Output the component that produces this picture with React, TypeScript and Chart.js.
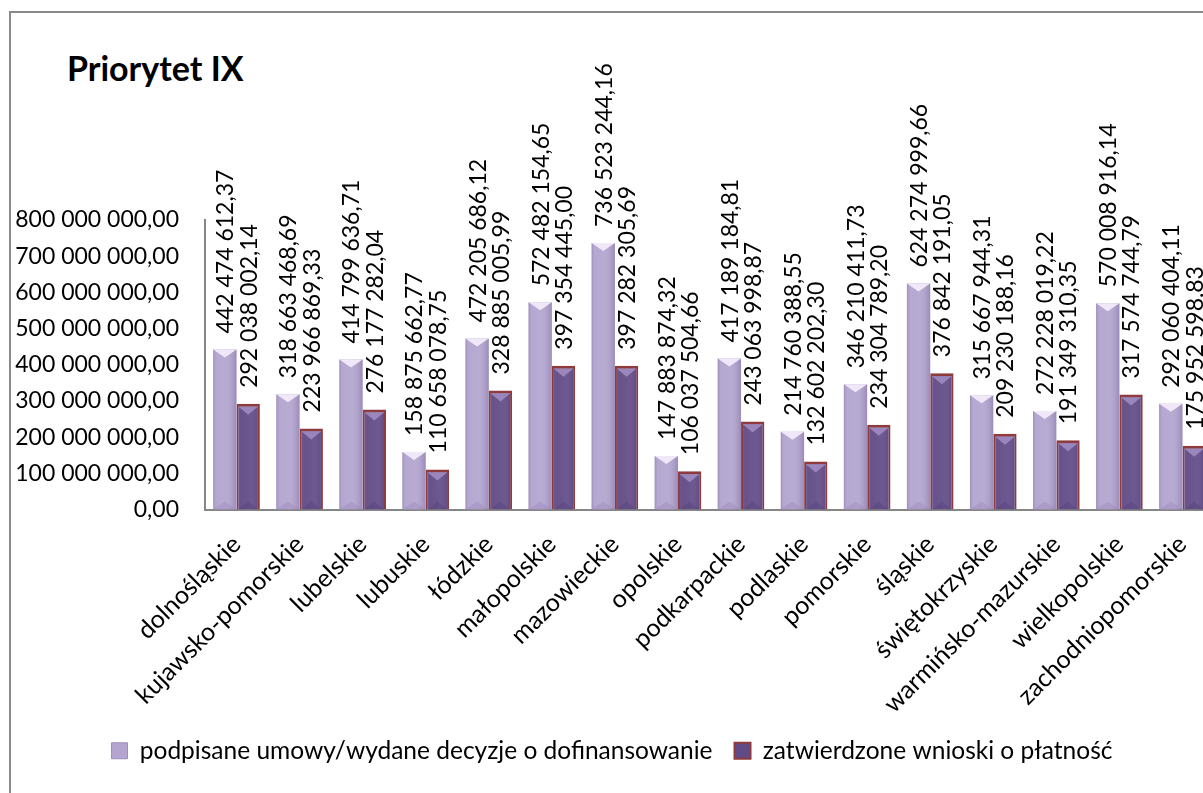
import React, { useEffect, useRef } from "react";
import { Chart, registerables } from "chart.js";

Chart.register(...registerables);

const categories: string[] = [
  "dolnośląskie",
  "kujawsko-pomorskie",
  "lubelskie",
  "lubuskie",
  "łódzkie",
  "małopolskie",
  "mazowieckie",
  "opolskie",
  "podkarpackie",
  "podlaskie",
  "pomorskie",
  "śląskie",
  "świętokrzyskie",
  "warmińsko-mazurskie",
  "wielkopolskie",
  "zachodniopomorskie",
];

const signedValues: number[] = [
  442474612.37, 318663468.69, 414799636.71, 158875662.77, 472205686.12,
  572482154.65, 736523244.16, 147883874.32, 417189184.81, 214760388.55,
  346210411.73, 624274999.66, 315667944.31, 272228019.22, 570008916.14,
  292060404.11,
];

const approvedValues: number[] = [
  292038002.14, 223966869.33, 276177282.04, 110658078.75, 328885005.99,
  397354445.0, 397282305.69, 106037504.66, 243063998.87, 132602202.3,
  234304789.2, 376842191.05, 209230188.16, 191349310.35, 317574744.79,
  175952598.83,
];

const seriesNames: string[] = [
  "podpisane umowy/wydane decyzje o dofinansowanie",
  "zatwierdzone wnioski o płatność",
];

const yMin = 0;
const yMax = 800000000;
const yStep = 100000000;

const titleText = "Priorytet IX";

const FONT = "Lato";
const FS = 23;
const FS_TEXT = 24.5;
const FS_CAT = 25;

function fmt(v: number): string {
  const [i, d] = v.toFixed(2).split(".");
  const g = i.replace(/\B(?=(\d{3})+(?!\d))/g, " ");
  return g + "," + d;
}

const decorPlugin = {
  id: "decor",
  afterDatasetsDraw(chart: any) {
    const ctx = chart.ctx;
    ctx.save();
    chart.data.datasets.forEach((ds: any, di: number) => {
      const meta = chart.getDatasetMeta(di);
      meta.data.forEach((el: any) => {
        const { x, y, base, width } = el.getProps(["x", "y", "base", "width"], true);
        const l = x - width / 2;
        const r = x + width / 2;
        const inset = di === 1 ? 2 : 0;
        const topIn = di === 1 ? 3 : 0;
        const g = ctx.createLinearGradient(l, 0, r, 0);
        g.addColorStop(0, "rgba(60,40,100,0.20)");
        g.addColorStop(0.18, "rgba(255,255,255,0.04)");
        g.addColorStop(0.55, "rgba(255,255,255,0.07)");
        g.addColorStop(1, "rgba(60,40,100,0.22)");
        ctx.fillStyle = g;
        ctx.fillRect(l + inset, y + topIn, width - inset * 2, base - y - topIn);
        // top bevel
        const bt = y + topIn;
        ctx.beginPath();
        ctx.moveTo(l + inset, bt);
        ctx.lineTo(r - inset, bt);
        ctx.lineTo(x, bt + 8);
        ctx.closePath();
        ctx.fillStyle = di === 0 ? "#f0e8f9" : "#9a86bd";
        ctx.fill();
        // bottom bevel
        ctx.beginPath();
        ctx.moveTo(l + inset, base);
        ctx.lineTo(r - inset, base);
        ctx.lineTo(x, base - 8);
        ctx.closePath();
        ctx.fillStyle = di === 0 ? "rgba(150,130,185,0.35)" : "rgba(80,60,120,0.35)";
        ctx.fill();
      });
    });
    // data labels
    ctx.fillStyle = "#000";
    ctx.font = `${FS}px ${FONT}`;
    ctx.textAlign = "left";
    ctx.textBaseline = "middle";
    chart.data.datasets.forEach((ds: any, di: number) => {
      const meta = chart.getDatasetMeta(di);
      meta.data.forEach((el: any, i: number) => {
        const { x, y } = el.getProps(["x", "y"], true);
        ctx.save();
        ctx.translate(x + 1, y - 16);
        ctx.rotate(-Math.PI / 2);
        ctx.fillText(fmt(ds.data[i]), 0, 0);
        ctx.restore();
      });
    });
    ctx.restore();
  },
};

export default function App() {
  const ref = useRef<HTMLCanvasElement | null>(null);

  useEffect(() => {
    if (!ref.current) return;
    const chart = new Chart(ref.current, {
      type: "bar",
      data: {
        labels: categories,
        datasets: [
          {
            label: seriesNames[0],
            data: signedValues,
            backgroundColor: "#b3a5cf",
            borderWidth: 0,
            categoryPercentage: 0.74,
            barPercentage: 1.0,
          },
          {
            label: seriesNames[1],
            data: approvedValues,
            backgroundColor: "#614b86",
            borderColor: "#8f3b3e",
            borderWidth: { top: 3, left: 2, right: 2, bottom: 0 },
            borderSkipped: false,
            categoryPercentage: 0.74,
            barPercentage: 1.0,
          },
        ],
      },
      options: {
        responsive: false,
        animation: false,
        layout: { padding: { left: 10, top: 220, right: 26, bottom: 20 } },
        plugins: {
          tooltip: { enabled: false },
          legend: {
            position: "bottom",
            labels: {
              font: { family: FONT, size: FS_TEXT },
              color: "#000",
              boxWidth: 16,
              boxHeight: 16,
              padding: 22,
              generateLabels: (chart: any) =>
                chart.data.datasets.map((ds: any, i: number) => ({
                  text: ds.label,
                  fillStyle: i === 0 ? "#b3a5cf" : "#614b86",
                  strokeStyle: i === 0 ? "#9d8fbb" : "#8f3b3e",
                  lineWidth: i === 0 ? 1 : 2,
                  datasetIndex: i,
                })),
            },
          },
        },
        scales: {
          x: {
            grid: { display: false },
            border: { display: true, color: "#868686", width: 2 },
            ticks: {
              autoSkip: false,
              minRotation: 45,
              maxRotation: 45,
              color: "#000",
              font: { family: FONT, size: FS_CAT },
              padding: 12,
            },
            afterFit: (s: any) => {
              s.height = 207;
            },
          },
          y: {
            min: yMin,
            max: yMax,
            grid: { display: false, drawTicks: false },
            border: { display: true, color: "#868686", width: 2 },
            ticks: {
              stepSize: yStep,
              color: "#000",
              font: { family: FONT, size: FS },
              padding: 26,
              callback: (v: any) => fmt(Number(v)),
            },
            afterFit: (s: any) => {
              s.width = 195;
            },
          },
        },
      },
      plugins: [decorPlugin],
    });
    return () => chart.destroy();
  }, []);

  return (
    <div
      style={{
        position: "fixed",
        left: 0,
        top: 0,
        width: 1203,
        height: 793,
        overflow: "hidden",
        background: "#fff",
      }}
    >
      <div
        style={{
          position: "absolute",
          left: 9,
          top: 11,
          width: 1300,
          height: 900,
          border: "2px solid #8a8a8a",
          boxSizing: "border-box",
        }}
      />
      <div
        style={{
          position: "absolute",
          left: 67,
          top: 47,
          fontFamily: FONT,
          fontWeight: "bold",
          fontSize: 34,
          color: "#000",
          whiteSpace: "nowrap",
        }}
      >
        {titleText}
      </div>
      <canvas
        ref={ref}
        width={1240}
        height={793}
        style={{ position: "absolute", left: 0, top: 0, width: 1240, height: 793 }}
      />
    </div>
  );
}
